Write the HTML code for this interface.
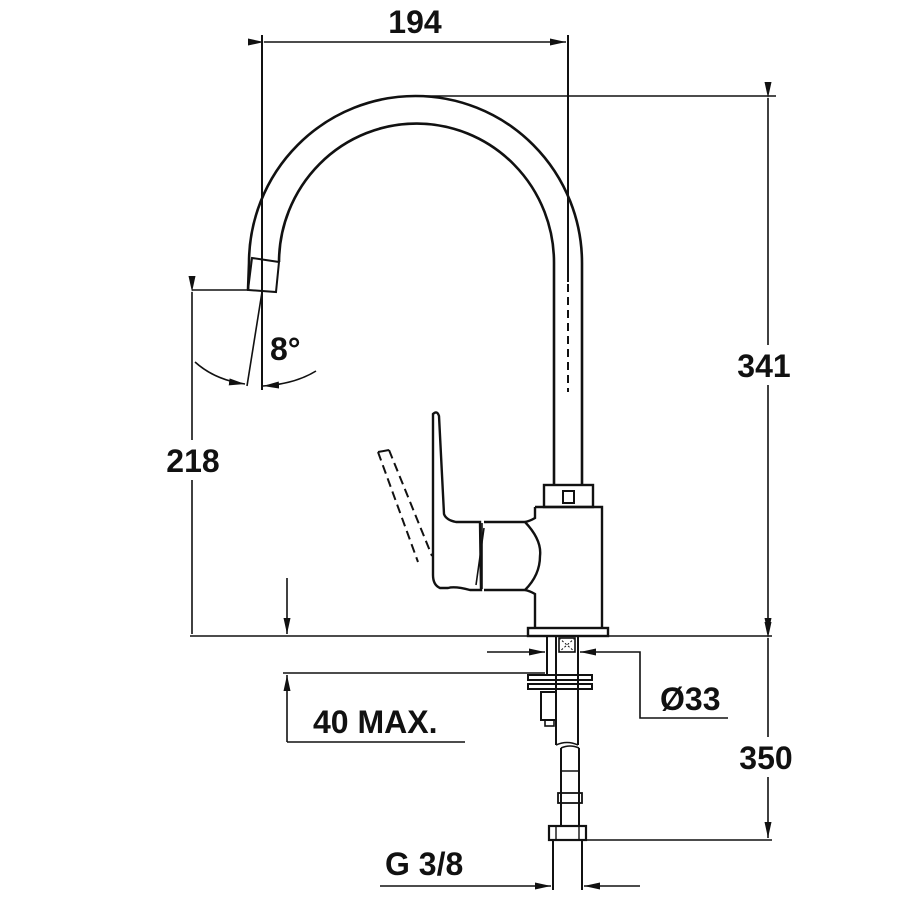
<!DOCTYPE html>
<html><head><meta charset="utf-8"><style>
html,body{margin:0;padding:0;background:#fff}
svg{display:block}
text{font-family:"Liberation Sans Narrow","Liberation Sans",sans-serif;font-weight:bold;font-size:32px;fill:#111}
</style></head><body>
<svg width="918" height="900" viewBox="0 0 918 900" xmlns="http://www.w3.org/2000/svg">
<defs>
<marker id="a" viewBox="0 0 16 7" refX="16" refY="3.5" markerWidth="16" markerHeight="7" orient="auto" markerUnits="userSpaceOnUse"><path d="M0,0L16,3.5L0,7z" fill="#111"/></marker>
</defs>
<g stroke="#111" stroke-width="2" fill="none">
<line x1="262" y1="35" x2="262" y2="390"/>
<line x1="568" y1="35" x2="568" y2="282"/>
<line x1="264" y1="42" x2="566" y2="42" marker-start="url(#a)" marker-end="url(#a)" stroke-width="1.6"/>
<path d="M248,290 L249,263 A166.5,167 0 0 1 582,263 L582,485" stroke-width="2.6"/>
<path d="M279,262 A137.5,139 0 0 1 554,263 L554,485" stroke-width="2.6"/>
<path d="M252,258 L279,262 L276,292 L248,290 Z" stroke-width="2"/>
<line x1="568" y1="284" x2="568" y2="392" stroke-dasharray="8,5" stroke-width="2"/>
<line x1="413" y1="96" x2="776" y2="96" stroke-width="1.6"/>
<line x1="768" y1="98" x2="768" y2="634" marker-start="url(#a)" marker-end="url(#a)" stroke-width="1.6"/>
<line x1="192" y1="290" x2="248" y2="290" stroke-width="1.6"/>
<line x1="192" y1="292" x2="192" y2="634" marker-start="url(#a)" stroke-width="1.6"/>
<line x1="262" y1="292" x2="247" y2="386" stroke-width="1.6"/>
<path d="M195,362 Q215,380 245,384" marker-end="url(#a)" stroke-width="1.6"/>
<path d="M316,371 Q295,384 263,386" marker-end="url(#a)" stroke-width="1.6"/>
<line x1="190" y1="636" x2="772" y2="636" stroke-width="1.6"/>
<line x1="287" y1="578" x2="287" y2="634" marker-end="url(#a)" stroke-width="1.6"/>
<line x1="283" y1="673" x2="545" y2="673" stroke-width="1.6"/>
<line x1="287" y1="742" x2="287" y2="675" marker-end="url(#a)" stroke-width="1.6"/>
<line x1="287" y1="742" x2="465" y2="742" stroke-width="1.6"/>
<rect x="544" y="485" width="49" height="22" stroke-width="2.4"/>
<rect x="563" y="491" width="11" height="12" stroke-width="2"/>
<path d="M535,507 L602,507 L602,628 M535,507 L535,518 Q530,521 525,522 M535,628 L535,594 Q530,591 525,590" stroke-width="2.4"/>
<path d="M484,522 L525,522 Q542,540 540,556 Q540,575 525,590 L484,590" stroke-width="2.4"/>
<line x1="482" y1="523" x2="482" y2="589" stroke-width="1.6"/>
<path d="M433,414 Q437,410 439,416 L444,514 Q446,520 456,522 L480,522 L481,590 L470,590 Q455,586 448,588 L440,588 Q433,585 433,575 Z" stroke-width="2.4"/>
<path d="M484,528 L476,585" stroke-width="1.6"/>
<line x1="378" y1="452" x2="418" y2="562" stroke-dasharray="9,5" stroke-width="2"/>
<line x1="389" y1="450" x2="432" y2="556" stroke-dasharray="9,5" stroke-width="2"/>
<line x1="378" y1="452" x2="389" y2="450" stroke-width="2"/>
<rect x="528" y="628" width="80" height="8" stroke-width="2.4"/>
<line x1="547" y1="636" x2="547" y2="676"/>
<line x1="556" y1="636" x2="556" y2="745"/>
<line x1="578" y1="636" x2="578" y2="745"/>
<rect x="559" y="638" width="16" height="14" stroke-width="1.6"/>
<path d="M559,638L575,652M575,638L559,652" stroke-width="1" stroke-dasharray="2,2"/>
<rect x="528" y="675" width="64" height="5" stroke-width="2"/>
<rect x="528" y="684" width="64" height="5" stroke-width="2"/>
<rect x="541" y="692" width="15" height="28" stroke-width="2"/>
<rect x="545" y="720" width="9" height="6" stroke-width="1.6"/>
<path d="M556,745 Q567,740 578,745" stroke-width="1.6"/>
<path d="M561,748 Q570,744 579,748" stroke-width="1.6"/>
<line x1="561" y1="748" x2="561" y2="826"/>
<line x1="579" y1="748" x2="579" y2="826"/>
<line x1="561" y1="771" x2="579" y2="771" stroke-width="1.6"/>
<rect x="558" y="793" width="24" height="10" stroke-width="1.8"/>
<rect x="549" y="826" width="37" height="14" stroke-width="2.2"/>
<line x1="556" y1="826" x2="556" y2="840" stroke-width="1.4"/>
<line x1="579" y1="826" x2="579" y2="840" stroke-width="1.4"/>
<line x1="553" y1="840" x2="553" y2="890"/>
<line x1="582" y1="840" x2="582" y2="890"/>
<line x1="586" y1="840" x2="772" y2="840" stroke-width="1.6"/>
<line x1="768" y1="638" x2="768" y2="838" marker-start="url(#a)" marker-end="url(#a)" stroke-width="1.6"/>
<line x1="380" y1="886" x2="551" y2="886" marker-end="url(#a)" stroke-width="1.6"/>
<line x1="640" y1="886" x2="584" y2="886" marker-end="url(#a)" stroke-width="1.6"/>
<line x1="487" y1="652" x2="545" y2="652" marker-end="url(#a)" stroke-width="1.6"/>
<path d="M636,652 L580,652" marker-end="url(#a)" stroke-width="1.6"/>
<path d="M636,652 L640,652 L640,718 L728,718" stroke-width="1.6"/>
</g>
<rect x="158" y="440" width="70" height="40" fill="#fff"/>
<rect x="728" y="345" width="72" height="40" fill="#fff"/>
<rect x="728" y="737" width="74" height="40" fill="#fff"/>
<text x="415" y="33" text-anchor="middle">194</text>
<text x="193" y="472" text-anchor="middle">218</text>
<text x="764" y="377" text-anchor="middle">341</text>
<text x="766" y="769" text-anchor="middle">350</text>
<text x="270" y="360">8°</text>
<text x="313" y="733">40 MAX.</text>
<text x="660" y="710">Ø33</text>
<text x="385" y="875">G 3/8</text>
</svg>
</body></html>
